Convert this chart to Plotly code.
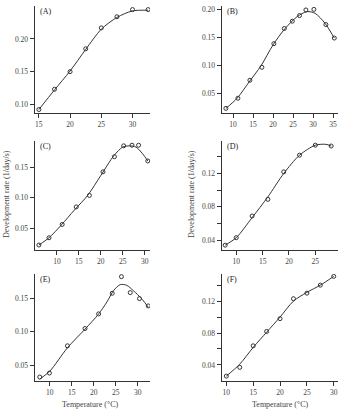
import plotly.graph_objects as go

# ---- data ----
a_x = [15, 17.5, 20, 22.5, 25, 27.5, 30, 32.5]
a_y = [0.092, 0.123, 0.150, 0.185, 0.217, 0.234, 0.245, 0.245]
a_cx = [15, 17.5, 20, 22.5, 25, 27.5, 30, 32.5]
a_cy = [0.092, 0.122, 0.151, 0.184, 0.215, 0.233, 0.243, 0.244]

b_x = [8.2, 11.2, 14.2, 17.2, 20.2, 22.8, 24.8, 26.6, 28.2, 30.2, 33.2, 35.3]
b_y = [0.024, 0.042, 0.074, 0.097, 0.139, 0.166, 0.179, 0.189, 0.199, 0.200, 0.173, 0.149]
b_cx = [8.2, 11, 14, 17, 20, 23, 26, 28.5, 30.5, 33, 35.3]
b_cy = [0.024, 0.042, 0.071, 0.100, 0.137, 0.166, 0.187, 0.196, 0.193, 0.175, 0.149]

c_x = [5.9, 8.2, 11.2, 14.4, 17.4, 20.5, 23.1, 25.2, 27.1, 28.6, 30.7]
c_y = [0.022, 0.034, 0.056, 0.085, 0.104, 0.143, 0.168, 0.186, 0.187, 0.187, 0.161]
c_cx = [5.9, 8.2, 11, 14, 17, 20, 23, 25, 26.5, 28, 29.5, 30.7]
c_cy = [0.022, 0.034, 0.055, 0.080, 0.104, 0.137, 0.170, 0.184, 0.186, 0.184, 0.173, 0.161]

d_x = [7.9, 10, 13, 16, 19, 22, 25, 28]
d_y = [0.034, 0.043, 0.069, 0.089, 0.122, 0.142, 0.154, 0.153]
d_cx = [7.9, 10, 13, 16, 19, 22, 25, 27, 28]
d_cy = [0.034, 0.043, 0.067, 0.092, 0.120, 0.142, 0.154, 0.155, 0.153]

e_x = [7.7, 9.9, 14.0, 18.0, 21.1, 24.2, 26.3, 28.3, 30.4, 32.4]
e_y = [0.032, 0.038, 0.079, 0.105, 0.127, 0.158, 0.183, 0.159, 0.150, 0.139]
e_cx = [7.7, 10, 14, 18, 21, 23, 24.5, 26, 27.5, 29, 31, 32.4]
e_cy = [0.029, 0.041, 0.076, 0.104, 0.126, 0.145, 0.162, 0.171, 0.170, 0.162, 0.149, 0.137]

f_x = [10, 12.5, 15, 17.5, 20, 22.5, 25, 27.5, 30]
f_y = [0.026, 0.037, 0.064, 0.082, 0.098, 0.123, 0.130, 0.140, 0.151]
f_cx = [10, 12.5, 15, 17.5, 20, 22.5, 25, 27.5, 30]
f_cy = [0.026, 0.041, 0.062, 0.081, 0.100, 0.120, 0.131, 0.140, 0.151]

labels = ["(A)", "(B)", "(C)", "(D)", "(E)", "(F)"]
x_ticks = [[15, 20, 25, 30], [10, 15, 20, 25, 30, 35], [10, 15, 20, 25, 30],
           [10, 15, 20, 25], [10, 15, 20, 25, 30], [10, 15, 20, 25, 30]]
y_ticks = [[0.10, 0.15, 0.20], [0.05, 0.10, 0.15, 0.20], [0.05, 0.10, 0.15],
           [0.04, 0.06, 0.08, 0.10, 0.12, 0.14], [0.05, 0.10, 0.15],
           [0.04, 0.06, 0.08, 0.10, 0.12, 0.14]]
y_ticktext = [["0.10", "0.15", "0.20"], ["0.05", "0.10", "0.15", "0.20"],
              ["0.05", "0.10", "0.15"], ["0.04", "", "0.08", "", "0.12", ""],
              ["0.05", "0.10", "0.15"], ["0.04", "", "0.08", "", "0.12", ""]]
y_title = "Development rate (1/day/s)"
x_title = "Temperature (°C)"

# ---- layout geometry ----
W, H = 345, 411
x_ranges = [[14.3, 32.8], [7.1, 36.1], [4.9, 31.2], [7.2, 29.2], [6.5, 32.8], [9.1, 30.7]]
y_ranges = [[0.0867, 0.2505], [0.0158, 0.206], [0.0146, 0.194], [0.0288, 0.159],
            [0.0268, 0.187], [0.0205, 0.154]]
col_dom = [[34.5 / W, 150 / W], [221.5 / W, 337.5 / W]]
row_dom = [[1 - 113 / H, 1 - 6 / H], [1 - 249.5 / H, 1 - 141 / H], [1 - 380.5 / H, 1 - 274 / H]]

pts = [(a_x, a_y), (b_x, b_y), (c_x, c_y), (d_x, d_y), (e_x, e_y), (f_x, f_y)]
crv = [(a_cx, a_cy), (b_cx, b_cy), (c_cx, c_cy), (d_cx, d_cy), (e_cx, e_cy), (f_cx, f_cy)]

FONT = "Liberation Serif, Times New Roman, serif"
DARK = "#333333"

fig = go.Figure()
layout = dict(width=W, height=H, margin=dict(l=0, r=0, t=0, b=0),
              paper_bgcolor="white", plot_bgcolor="white", showlegend=False,
              font=dict(family=FONT, size=7, color="#444444"))
annotations = []
for i in range(6):
    r, c = divmod(i, 2)
    sfx = "" if i == 0 else str(i + 1)
    xa, ya = "x" + sfx, "y" + sfx
    fig.add_trace(go.Scatter(x=crv[i][0], y=crv[i][1], mode="lines",
                             line=dict(color=DARK, width=1, shape="spline", smoothing=0.8),
                             xaxis=xa, yaxis=ya, hoverinfo="skip"))
    fig.add_trace(go.Scatter(x=pts[i][0], y=pts[i][1], mode="markers",
                             marker=dict(symbol="circle-open", size=4, color=DARK,
                                         line=dict(width=1, color=DARK)),
                             xaxis=xa, yaxis=ya))
    layout["xaxis" + sfx] = dict(domain=col_dom[c], range=x_ranges[i], anchor=ya,
                                 showline=True, linecolor=DARK, linewidth=1,
                                 showgrid=False, zeroline=False, ticks="outside",
                                 ticklen=4, tickwidth=1, tickcolor=DARK,
                                 tickvals=x_ticks[i], ticktext=[str(v) for v in x_ticks[i]],
                                 tickfont=dict(family=FONT, size=7.5, color="#444444"))
    layout["yaxis" + sfx] = dict(domain=row_dom[r], range=y_ranges[i], anchor=xa,
                                 showline=True, linecolor=DARK, linewidth=1,
                                 showgrid=False, zeroline=False, ticks="outside",
                                 ticklen=4, tickwidth=1, tickcolor=DARK,
                                 tickvals=y_ticks[i], ticktext=y_ticktext[i],
                                 tickfont=dict(family=FONT, size=7.5, color="#444444"))
    annotations.append(dict(text=labels[i], xref="paper", yref="paper",
                            x=col_dom[c][0] + 3 / W, y=row_dom[r][1] + 1 / H,
                            xanchor="left", yanchor="top", showarrow=False,
                            font=dict(family=FONT, size=8, color="#222222")))

for xc in [6 / W, 191 / W]:
    annotations.append(dict(text=y_title, xref="paper", yref="paper", x=xc, y=1 - 194 / H,
                            textangle=-90, showarrow=False, xanchor="center", yanchor="middle",
                            font=dict(family=FONT, size=8, color="#444444")))
for xc in [90 / W, 280 / W]:
    annotations.append(dict(text=x_title, xref="paper", yref="paper", x=xc, y=1 - 404 / H,
                            showarrow=False, xanchor="center", yanchor="middle",
                            font=dict(family=FONT, size=8, color="#444444")))
layout["annotations"] = annotations
fig.update_layout(**layout)
fig.write_html("out.html")
